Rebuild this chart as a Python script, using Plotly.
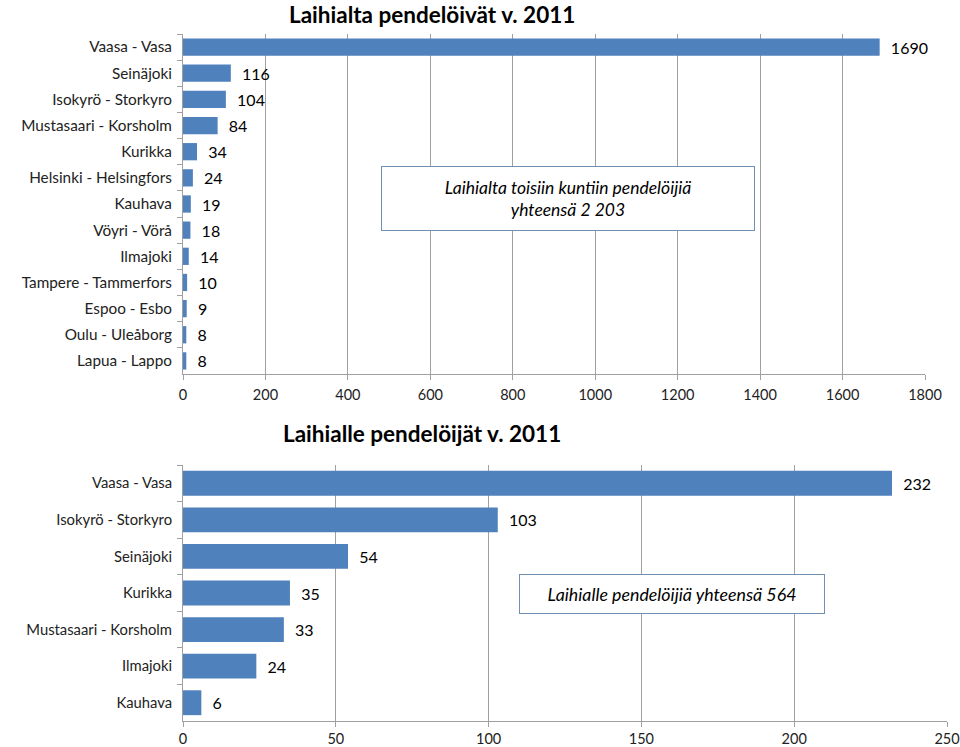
import plotly.graph_objects as go

# Top chart data
top_categories = ["Vaasa - Vasa", "Seinäjoki", "Isokyrö - Storkyro", "Mustasaari - Korsholm",
                  "Kurikka", "Helsinki - Helsingfors", "Kauhava", "Vöyri - Vörå", "Ilmajoki",
                  "Tampere - Tammerfors", "Espoo - Esbo", "Oulu - Uleåborg", "Lapua - Lappo"]
top_values = [1690, 116, 104, 84, 34, 24, 19, 18, 14, 10, 9, 8, 8]
top_title = "Laihialta pendelöivät v. 2011"
top_note = "Laihialta toisiin kuntiin pendelöijiä<br>yhteensä 2 203"
top_ticks = [0, 200, 400, 600, 800, 1000, 1200, 1400, 1600, 1800]

# Bottom chart data
bot_categories = ["Vaasa - Vasa", "Isokyrö - Storkyro", "Seinäjoki", "Kurikka",
                  "Mustasaari - Korsholm", "Ilmajoki", "Kauhava"]
bot_values = [232, 103, 54, 35, 33, 24, 6]
bot_title = "Laihialle pendelöijät v. 2011"
bot_note = "Laihialle pendelöijiä yhteensä 564"
bot_ticks = [0, 50, 100, 150, 200, 250]

BAR = "#4F81BD"
GRID = "#A0A0A0"
FONT = "Lato"

W, H = 960, 747
ml = 183
plot_right = 947
mr = W - plot_right
top_right = 925
top_px = (34, 374)
bot_px = (465, 721)
PW = plot_right - ml


def dom(px):
    return [1 - px[1] / H, 1 - px[0] / H]


def px_x(x):
    return (x - ml) / PW


def px_y(y):
    return 1 - y / H


fig = go.Figure()
fig.add_trace(go.Bar(
    x=top_values, y=top_categories, orientation="h", marker=dict(color=BAR, line=dict(width=0)),
    texttemplate="  %{x}", textposition="outside", cliponaxis=False, constraintext="none",
    textfont=dict(size=16, color="#000000", family=FONT), xaxis="x", yaxis="y", width=0.66,
))
fig.add_trace(go.Bar(
    x=bot_values, y=bot_categories, orientation="h", marker=dict(color=BAR, line=dict(width=0)),
    texttemplate="  %{x}", textposition="outside", cliponaxis=False, constraintext="none",
    textfont=dict(size=16, color="#000000", family=FONT), xaxis="x2", yaxis="y2", width=0.68,
))

common_x = dict(showgrid=True, gridcolor=GRID, gridwidth=1, showline=True, linecolor=GRID,
                ticks="outside", ticklen=5, tickcolor=GRID, zeroline=False, automargin=False,
                tickfont=dict(size=14.5, color="#222222", family=FONT))
common_y = dict(showline=True, linecolor=GRID, ticks="outside", ticklen=5, tickcolor=GRID,
                tickson="boundaries", showgrid=False, autorange="reversed", type="category",
                automargin=False, ticklabelstandoff=7)

fig.update_layout(
    width=W, height=H, margin=dict(l=ml, r=mr, t=0, b=0),
    plot_bgcolor="white", paper_bgcolor="white", showlegend=False, bargap=0.35,
    font=dict(family=FONT),
    xaxis=dict(domain=[0, (top_right - ml) / PW], range=[0, 1800], tickvals=top_ticks,
               anchor="y", ticklabelstandoff=3, **common_x),
    yaxis=dict(domain=dom(top_px), anchor="x",
               tickfont=dict(size=15.3, color="#222222", family=FONT), **common_y),
    xaxis2=dict(domain=[0, 1], range=[0, 250], tickvals=bot_ticks, anchor="y2",
                ticklabelstandoff=0, **common_x),
    yaxis2=dict(domain=dom(bot_px), anchor="x2",
                tickfont=dict(size=14.8, color="#222222", family=FONT), **common_y),
)

fig.add_annotation(text=f"<b>{top_title}</b>", xref="paper", yref="paper",
                   x=px_x(432), y=px_y(14), showarrow=False,
                   font=dict(size=22.5, color="#000000", family=FONT), xanchor="center", yanchor="middle")
fig.add_annotation(text=f"<b>{bot_title}</b>", xref="paper", yref="paper",
                   x=px_x(422), y=px_y(433), showarrow=False,
                   font=dict(size=22.5, color="#000000", family=FONT), xanchor="center", yanchor="middle")

fig.add_annotation(text=f"<i>{top_note}</i>", xref="paper", yref="paper",
                   x=px_x(568), y=px_y(198.5), showarrow=False, xanchor="center", yanchor="middle",
                   font=dict(size=17.5, color="#000000", family=FONT), align="center",
                   bordercolor="#6F8FB5", borderwidth=1, bgcolor="white",
                   width=370, height=61, borderpad=1)
fig.add_annotation(text=f"<i>{bot_note}</i>", xref="paper", yref="paper",
                   x=px_x(672), y=px_y(593.5), showarrow=False, xanchor="center", yanchor="middle",
                   font=dict(size=17.8, color="#000000", family=FONT), align="center",
                   bordercolor="#6F8FB5", borderwidth=1, bgcolor="white",
                   width=302, height=36, borderpad=1)

# remove the browser's default 8px body margin so the figure sits at the page origin
fig.write_html("out.html", config={"displayModeBar": False},
               post_script="document.body.style.margin='0';")
